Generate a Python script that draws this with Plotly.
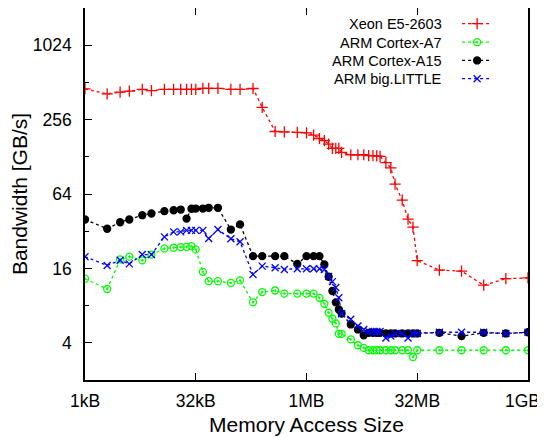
import plotly.graph_objects as go

# memory access size in kB
sizes_kb = [1, 2, 3, 4, 6, 8, 12, 16, 20, 24, 28, 32, 40, 48, 64, 96, 128, 192, 256, 384,
            512, 768, 1024, 1280, 1536, 1792, 2048, 2304, 2560, 2816, 3072, 4096, 5120,
            6144, 7168, 8192, 9216, 10240, 12288, 14336, 16384, 20480, 24576, 28672,
            32768, 65536, 131072, 262144, 524288, 1048576]

# bandwidth in GB/s
xeon = [454, 413, 427, 435, 449, 440, 449, 449, 449, 449, 449, 449, 458, 458, 458, 449,
        449, 457, 322, 205, 204, 202, 200, 192, 180, 173, 162,
        150, 150, 150, 139, 133, 133, 133, 131, 131, 130, 129, 115, 104, 77, 57, 40,
        34.5, 18.5, 15.5, 15.2, 11.7, 13.2, 13.4]
cortex_a7 = [13.2, 10.9, 18.9, 19.9, 18.6, 20.7, 23.2, 23.5, 23.8, 23.9, 24.2, 22.8, 15.0,
             12.6, 12.6, 12.2, 12.8, 8.5, 10.3, 10.6, 10.0, 10.0, 10.0, 10.0, 9.25, 8.28, 7.0,
             6.26, 5.74, 4.73, 4.73, 4.26, 3.82, 3.64, 3.48, 3.48, 3.48, 3.48, 3.48, 3.48,
             3.48, 3.48, 3.48, 3.07, 3.48, 3.48, 3.48, 3.48, 3.48, 3.48]
cortex_a15 = [39.8, 33.5, 37.8, 39.8, 43.1, 44.5, 46.5, 47.3, 47.9, 40.5, 48.6, 48.8, 48.8,
              49.5, 49.5, 33.0, 36.3, 20.1, 20.1, 20.1, 20.1, 17.4, 20.1, 20.1, 20.1, 17.2, 13.7,
              10.5, 8.5, 7.44, 6.9, 5.63, 5.13, 4.6, 4.82, 4.82, 4.82, 4.82, 4.76, 4.76,
              4.76, 4.76, 4.76, 4.76, 4.76, 4.82, 4.53, 4.82, 4.76, 4.87]
big_little = [19.9, 16.9, 18.6, 17.4, 20.7, 20.7, 28.8, 31.6, 31.6, 32.5, 32.5, 32.5, 32.5,
              27.9, 33.0, 27.8, 26.3, 14.3, 16.7, 16.2, 15.7, 15.9, 15.9, 15.9, 15.9, 15.7, 13.8,
              12.5, 11.2, 9.26, 6.87, 6.2, 5.47, 5.13, 4.93, 4.93, 4.93, 4.93, 4.37, 4.53,
              4.76, 4.76, 4.37, 4.76, 4.76, 4.87, 4.87, 4.87, 4.76, 4.87]

series_names = ["Xeon E5-2603", "ARM Cortex-A7", "ARM Cortex-A15", "ARM big.LITTLE"]

x_tickvals = [1, 32, 1024, 32768, 1048576]
x_ticktext = ["1kB", "32kB", "1MB", "32MB", ""]
last_xlabel = "1GB"   # drawn as an annotation so it is not clipped at the edge
y_tickvals = [4, 16, 64, 256, 1024]
y_minor = [2, 8, 32, 128, 512, 2048]

font = "Liberation Sans, Arial, Helvetica, sans-serif"

styles = [
    dict(color="#ff0000", symbol="cross-thin-open", size=8),
    dict(color="#00ff00", symbol="circle-open-dot", size=7),
    dict(color="#000000", symbol="circle", size=7),
    dict(color="#0000ff", symbol="x-thin-open", size=7),
]

# one single-entry legend per series, so the text can sit left of the sample
legend_ids = ["legend", "legend2", "legend3", "legend4"]
label_y = [0.957, 0.907, 0.858, 0.809]

fig = go.Figure()
for name, vals, st, lg in zip(series_names, [xeon, cortex_a7, cortex_a15, big_little],
                              styles, legend_ids):
    fig.add_trace(go.Scatter(
        x=sizes_kb, y=vals, mode="lines+markers", name=" ", legend=lg,
        line=dict(color=st["color"], width=1.3, dash="dot"),
        marker=dict(symbol=st["symbol"], size=st["size"], color=st["color"],
                    line=dict(color=st["color"], width=1.3)),
        hovertext=name,
    ))

for name, yy in zip(series_names, label_y):
    fig.add_annotation(x=0.8104, y=yy, xref="paper", yref="paper", text=name,
                       showarrow=False, xanchor="right", yanchor="middle",
                       font=dict(size=14.5, color="black", family=font))

fig.add_annotation(x=1.0316, y=-0.056, xref="paper", yref="paper", text=last_xlabel,
                   showarrow=False, xanchor="right", yanchor="middle",
                   font=dict(size=17.5, color="black", family=font))

# the page body adds 8px around the figure, so the figure is 8px smaller
fig.update_layout(
    width=537, height=429,
    margin=dict(l=77, r=17, t=0, b=57),
    plot_bgcolor="white", paper_bgcolor="white",
    font=dict(family=font, size=17.5, color="black"),
    showlegend=True,
)
for lg, yy in zip(legend_ids, label_y):
    fig.update_layout({lg: dict(x=0.84, y=yy, xanchor="left", yanchor="middle",
                                bgcolor="rgba(0,0,0,0)", font=dict(size=12.5),
                                itemwidth=30)})

fig.update_xaxes(
    type="log", range=[-0.0001, 6.0208], automargin=False,
    tickmode="array", tickvals=x_tickvals, ticktext=x_ticktext,
    ticks="inside", ticklen=7, tickwidth=1.3, tickcolor="black",
    showline=True, linecolor="black", linewidth=1.5, mirror="ticks",
    showgrid=False, zeroline=False, ticklabelstandoff=4,
    title=dict(text="Memory Access Size", standoff=8),
)
fig.update_yaxes(
    type="log", range=[0.30103, 3.31133], automargin=False,
    tickmode="array", tickvals=y_tickvals, ticktext=[str(v) for v in y_tickvals],
    ticks="inside", ticklen=7, tickwidth=1.3, tickcolor="black",
    minor=dict(tickmode="array", tickvals=y_minor, ticks="inside", ticklen=4,
               tickwidth=1.3, tickcolor="black", showgrid=False),
    showline=True, linecolor="black", linewidth=1.5, mirror=True,
    showgrid=False, zeroline=False, ticklabelstandoff=8,
    title=dict(text="Bandwidth [GB/s]", standoff=4),
)

fig.write_html("out.html")
